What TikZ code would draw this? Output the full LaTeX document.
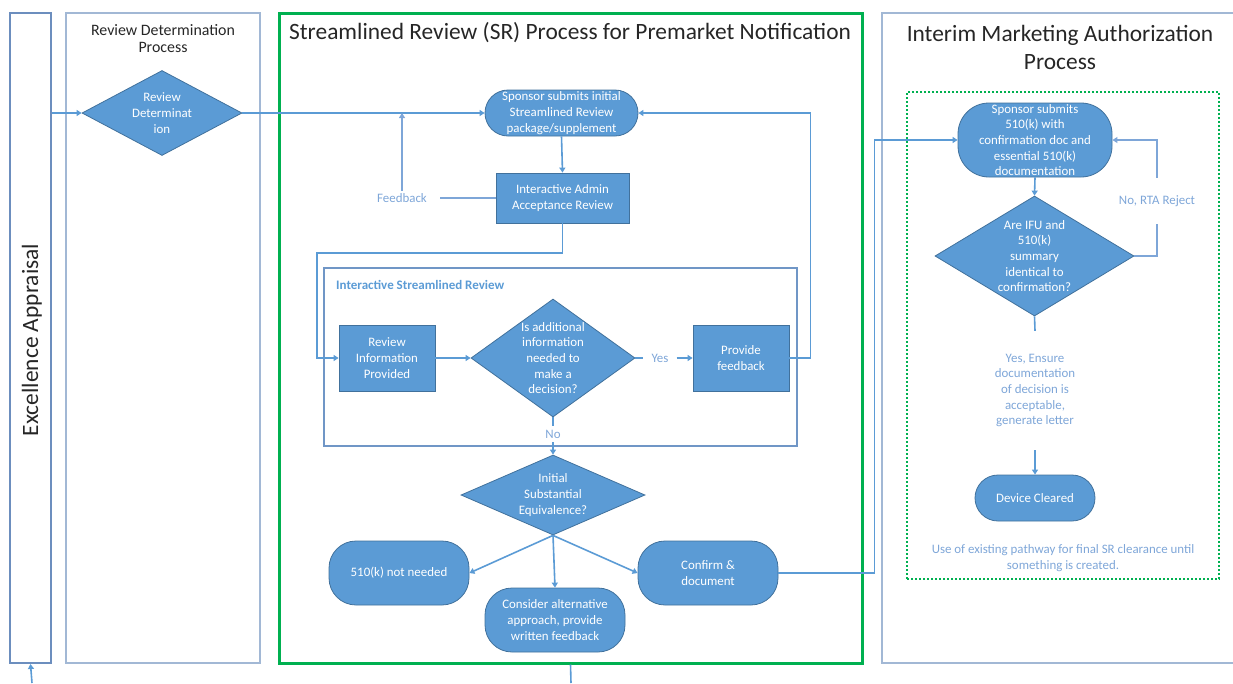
\documentclass[tikz,border=0pt]{standalone}
\usepackage{fontspec}
\setmainfont{Carlito}
\usetikzlibrary{shapes.geometric,arrows.meta}

\definecolor{boxfill}{HTML}{5B9BD5}
\definecolor{boxdraw}{HTML}{41719C}
\definecolor{flow}{HTML}{5B9BD5}
\definecolor{lanedark}{HTML}{6C8EBE}
\definecolor{lanelight}{HTML}{A2B8D5}
\definecolor{isrc}{HTML}{7096C6}
\definecolor{notec}{HTML}{7EA6D8}
\definecolor{srgreen}{HTML}{00B050}
\definecolor{titlec}{HTML}{262626}

\begin{document}
\begin{tikzpicture}[x=1pt,y=-1pt,
  lanebox/.style={draw=#1, line width=2pt, rectangle, inner sep=0pt},
  titletxt/.style={text=titlec, align=center, inner sep=0pt},
  proc/.style={rectangle, fill=boxfill, draw=boxdraw, line width=0.8pt, text=white,
    align=center, inner sep=0pt, font=\fontsize{12.9}{15.7}\selectfont},
  pill/.style={proc, rounded corners=#1},
  dec/.style={diamond, fill=boxfill, draw=boxdraw, line width=0.8pt, inner sep=0pt},
  dtxt/.style={text=white, align=center, inner sep=0pt, font=\fontsize{12.9}{15.7}\selectfont},
  note/.style={text=notec, align=center, inner sep=0pt, font=\fontsize{12.9}{15.7}\selectfont},
  conn/.style={draw=flow, line width=1.6pt},
  arr/.style={conn, -{Triangle[length=5pt,width=6pt]}},
  backconn/.style={draw=notec, line width=1.1pt},
  backarr/.style={backconn, -{Triangle[length=5pt,width=6pt]}}
]
\useasboundingbox (0,0) rectangle (1233,683);

% ---------- swim lanes ----------
\node[lanebox=lanedark, minimum width=41, minimum height=650] (exlane) at (30.5,338) {};
\node[rotate=90, text=titlec, inner sep=0pt, font=\fontsize{23.4}{28}\selectfont] (extitle) at (32,340) {Excellence Appraisal};

\node[lanebox=lanelight, minimum width=194, minimum height=650] (rdlane) at (163,338) {};
\node[titletxt, font=\fontsize{15.9}{17.5}\selectfont] (rdtitle) at (163,38.5) {Review Determination\\Process};

\node[draw=srgreen, line width=3pt, inner sep=0pt, minimum width=583, minimum height=650] (srbox) at (570.5,338) {};
\node[titletxt, font=\fontsize{23.4}{28}\selectfont] (srtitle) at (570,33) {Streamlined Review (SR) Process for Premarket Notification};

\draw[draw=lanelight, line width=2pt] (1233,13) -| (882,663) -- (1233,663);
\node[titletxt, font=\fontsize{23.4}{28}\selectfont] (imtitle) at (1060,47) {Interim Marketing Authorization\\Process};

% ---------- review determination ----------
\node[dec, minimum width=160, minimum height=85] (rd) at (162,113) {};
\node[dtxt] (rdt) at (rd) {Review\\Determinat\\ion};

% ---------- streamlined review ----------
\node[pill=23pt, minimum width=153, minimum height=46] (s1) at (561.5,113)
  {Sponsor submits initial\\Streamlined Review\\package/supplement};
\node[proc, minimum width=133, minimum height=50] (admin) at (562.5,198)
  {Interactive Admin\\Acceptance Review};
\node[note, inner xsep=13pt, inner ysep=2.5pt] (fbt) at (402,198) {Feedback};

\node[draw=isrc, line width=1.6pt, inner sep=0pt, minimum width=473, minimum height=178] (isr) at (560.5,357) {};
\node[anchor=west, text=flow, inner sep=0pt, font=\fontsize{13}{15}\selectfont\bfseries] (isrlabel) at (336,285)
  {Interactive Streamlined Review};

\node[proc, minimum width=96, minimum height=66] (ri) at (387,358) {Review\\Information\\Provided};
\node[dec, minimum width=164, minimum height=118] (d1) at (553,358) {};
\node[dtxt] (d1t) at (d1) {Is additional\\information\\needed to\\make a\\decision?};
\node[note, inner xsep=8pt, inner ysep=2pt] (yes) at (660,358) {Yes};
\node[proc, minimum width=96, minimum height=66] (pf) at (741,358) {Provide\\feedback};
\node[note, inner xsep=2pt, inner ysep=4pt] (no) at (553,434) {No};

\node[dec, minimum width=184, minimum height=80] (ise) at (553,495) {};
\node[dtxt] (iset) at (ise) {Initial\\Substantial\\Equivalence?};

\node[pill=27pt, minimum width=140, minimum height=64] (nn) at (399,573) {510(k) not needed};
\node[pill=27pt, minimum width=140, minimum height=64] (ca) at (555,620)
  {Consider alternative\\approach, provide\\written feedback};
\node[pill=27pt, minimum width=140, minimum height=64] (cd) at (708,573) {Confirm \&\\document};

% ---------- interim marketing authorization ----------
\node[draw=srgreen, dotted, line width=2pt, inner sep=0pt, minimum width=312, minimum height=487] (imbox) at (1063,335.5) {};
\node[pill=31pt, minimum width=154, minimum height=74] (s2) at (1035,140)
  {Sponsor submits\\510(k) with\\confirmation doc and\\essential 510(k)\\documentation};
\node[dec, minimum width=199, minimum height=120] (d2) at (1034.5,256) {};
\node[dtxt] (d2t) at (d2) {Are IFU and\\510(k)\\summary\\identical to\\confirmation?};
\node[note, minimum height=46] (rta) at (1157,201) {No, RTA Reject};
\node[note, minimum height=119] (yesn) at (1035,390.5)
  {Yes, Ensure\\documentation\\of decision is\\acceptable,\\generate letter};
\node[pill=23pt, minimum width=120, minimum height=46] (dc) at (1035,498) {Device Cleared};
\node[note, font=\fontsize{12.9}{16}\selectfont] (imnote) at (1063,558)
  {Use of existing pathway for final SR clearance until\\something is created.};

% ---------- connectors ----------
\coordinate (exin) at (32,683);
\coordinate (srout) at (571,683);
\coordinate (loopl) at (317,253);

\draw[arr] (exin) -- (exlane.south);
\draw[arr] (exlane.east |- rd.west) -- (rd.west);
\draw[arr] (rd.east) -- (s1.west);
\draw[arr] (s1.south) -- (admin.north);
\draw[backconn] (admin.west) -- (fbt.east);
\draw[backarr] (fbt.north) -- (fbt.north |- s1.west);
\draw[arr] (admin.south) |- (loopl) |- (ri.west);
\draw[arr] (ri.east) -- (d1.west);
\draw[conn] (d1.east) -- (yes.west);
\draw[arr] (yes.east) -- (pf.west);
\draw[arr] (pf.east) -- ++(21,0) |- (s1.east);
\draw[conn] (d1.south) -- (no.north);
\draw[arr] (no.south) -- (ise.north);
\draw[arr] (ise.south) -- (nn.east);
\draw[arr] (ise.south) -- (ca.north);
\draw[arr] (ise.south) -- (cd.west);
\draw[arr] (cd.east) -- ++(96,0) |- (s2.west);
\draw[conn] (srbox.south) -- (srout);

\draw[arr] (s2.south) -- (d2.north);
\draw[backconn] (d2.east) -| (rta.south);
\draw[backarr] (rta.north) |- (s2.east);
\draw[conn] (d2.south) -- (yesn.north);
\draw[arr] (yesn.south) -- (dc.north);
\end{tikzpicture}
\end{document}
